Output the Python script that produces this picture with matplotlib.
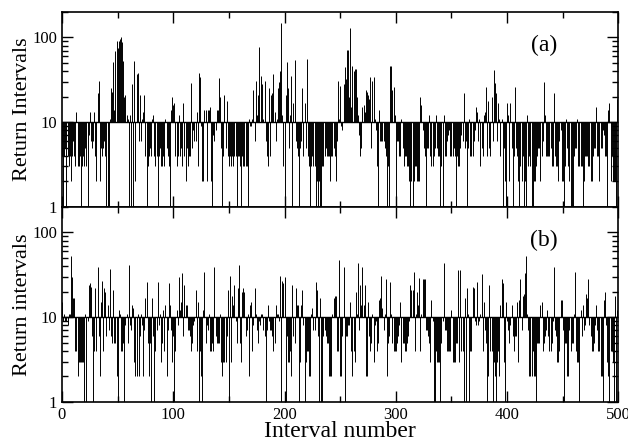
import numpy as np
import matplotlib
matplotlib.use("Agg")
import matplotlib.pyplot as plt
from matplotlib.ticker import LogLocator, MultipleLocator, NullFormatter

plt.rcParams["font.family"] = ["Liberation Serif", "DejaVu Serif"]

# return intervals, one value per interval (0..499)
ret_a = [
    4, 1, 4, 5, 1, 4, 3, 4, 2, 4,          # 0
    6, 4, 3, 13, 3, 3, 4, 1, 3, 4,
    3, 5, 3, 1, 7, 13, 6, 5, 6, 13,
    4, 2, 22, 31, 2, 5, 4, 5, 6, 4,
    1, 1, 1, 11, 25, 23, 51, 14, 70, 90,
    75, 90, 95, 100, 88, 53, 20, 21, 12, 11,  # 50
    1, 12, 1, 28, 1, 53, 2, 37, 38, 6,
    21, 6, 11, 13, 21, 4, 1, 3, 4, 5,
    4, 11, 12, 4, 3, 4, 1, 4, 5, 3,
    3, 4, 3, 11, 5, 4, 3, 1, 14, 20,
    16, 17, 4, 3, 4, 12, 4, 5, 3, 17,      # 100
    4, 2, 5, 3, 4, 4, 29, 5, 8, 6,
    6, 13, 3, 38, 34, 9, 2, 2, 14, 14,
    2, 14, 14, 15, 2, 1, 7, 6, 8, 14,
    14, 33, 20, 5, 1, 4, 21, 5, 18, 4,
    3, 4, 3, 4, 3, 4, 4, 1, 4, 4,          # 150
    3, 1, 4, 3, 3, 3, 3, 1, 11, 9,
    9, 11, 24, 6, 31, 12, 21, 78, 10, 35,
    28, 11, 31, 6, 4, 3, 25, 4, 21, 22,
    37, 13, 6, 11, 25, 30, 40, 150, 12, 3,
    1, 21, 51, 25, 5, 12, 35, 1, 17, 54,   # 200
    6, 5, 4, 1, 5, 6, 25, 4, 17, 5,
    56, 4, 3, 1, 3, 4, 3, 3, 1, 2,
    1, 2, 1, 1, 3, 3, 4, 5, 4, 4,
    4, 2, 4, 4, 5, 4, 2, 6, 31, 11,
    27, 9, 8, 28, 45, 32, 72, 72, 20, 130,  # 250
    15, 46, 40, 42, 42, 20, 12, 7, 4, 5,
    15, 16, 13, 24, 23, 21, 19, 34, 5, 31,
    34, 11, 8, 3, 1, 14, 6, 6, 6, 6,
    5, 4, 1, 3, 1, 46, 46, 24, 26, 12,
    1, 6, 6, 4, 4, 11, 5, 3, 4, 4,         # 300
    3, 3, 2, 1, 2, 1, 2, 3, 3, 2,
    2, 2, 20, 16, 8, 5, 4, 1, 5, 5,
    12, 4, 3, 3, 4, 5, 12, 5, 4, 4,
    1, 3, 1, 12, 4, 4, 6, 7, 8, 4,
    4, 4, 5, 4, 1, 4, 3, 3, 5, 7,          # 350
    6, 22, 5, 6, 1, 5, 11, 4, 4, 4,
    6, 8, 15, 13, 6, 11, 3, 5, 4, 12,
    13, 26, 4, 18, 5, 4, 20, 6, 41, 29,
    22, 6, 17, 11, 4, 11, 1, 5, 2, 1,
    17, 12, 2, 17, 5, 1, 4, 26, 5, 4,      # 400
    2, 1, 3, 2, 4, 1, 2, 1, 12, 3,
    4, 3, 1, 1, 2, 2, 3, 4, 5, 5,
    2, 4, 6, 30, 12, 4, 4, 4, 4, 5,
    3, 3, 22, 4, 3, 3, 2, 6, 8, 2,
    2, 1, 3, 11, 5, 3, 2, 1, 1, 1,         # 450
    4, 5, 5, 11, 3, 3, 3, 3, 1, 2,
    4, 4, 4, 3, 3, 2, 2, 4, 5, 5,
    15, 4, 4, 2, 5, 5, 8, 7, 4, 4,
    1, 14, 17, 2, 4, 2, 2, 2, 1, 19,
]

ret_b = [
    15, 9, 11, 9, 9, 8, 11, 11, 53, 30,    # 0
    17, 17, 4, 4, 2, 3, 3, 3, 3, 3,
    1, 11, 1, 9, 24, 25, 23, 6, 1, 4,
    22, 4, 39, 6, 2, 15, 27, 4, 22, 20,
    6, 14, 7, 37, 6, 5, 21, 5, 5, 2,
    1, 12, 11, 4, 4, 5, 1, 8, 11, 5,       # 50
    41, 8, 7, 14, 13, 3, 2, 2, 11, 2,
    6, 11, 8, 2, 7, 17, 26, 5, 2, 5,
    1, 17, 6, 1, 4, 7, 26, 8, 11, 3,
    5, 12, 4, 14, 2, 7, 25, 14, 7, 3,
    6, 1, 4, 12, 8, 30, 12, 15, 33, 6,     # 100
    24, 14, 14, 7, 7, 6, 4, 5, 8, 9,
    21, 4, 15, 1, 4, 2, 1, 12, 34, 5,
    8, 7, 11, 4, 4, 5, 4, 39, 6, 5,
    5, 5, 11, 3, 2, 3, 3, 3, 6, 21,
    1, 31, 3, 18, 14, 24, 9, 5, 22, 41,    # 150
    5, 3, 20, 22, 20, 6, 7, 11, 2, 14,
    15, 4, 8, 22, 11, 7, 5, 9, 8, 11,
    11, 7, 6, 1, 7, 14, 9, 7, 7, 6,
    4, 5, 14, 11, 11, 9, 31, 1, 27, 25,
    30, 1, 6, 3, 3, 4, 2, 24, 6, 5,        # 200
    22, 14, 14, 1, 3, 14, 21, 8, 1, 3,
    4, 4, 2, 2, 11, 13, 7, 7, 26, 21,
    6, 1, 17, 1, 1, 6, 7, 6, 5, 5,
    2, 2, 2, 11, 17, 18, 18, 4, 4, 47,
    2, 2, 6, 39, 1, 6, 6, 8, 8, 15,        # 250
    4, 2, 4, 3, 20, 11, 44, 7, 24, 14,
    39, 14, 24, 2, 2, 15, 6, 4, 5, 11,
    3, 8, 9, 4, 5, 16, 17, 31, 13, 7,
    11, 28, 2, 5, 6, 26, 11, 5, 4, 4,
    4, 5, 6, 8, 15, 3, 5, 5, 4, 4,         # 300
    5, 6, 9, 24, 21, 21, 34, 4, 11, 20,
    14, 29, 4, 11, 28, 28, 28, 7, 7, 6,
    5, 3, 16, 9, 1, 1, 4, 3, 3, 3,
    1, 5, 9, 44, 7, 7, 4, 4, 4, 4,
    12, 3, 3, 3, 5, 5, 36, 3, 36, 4,       # 350
    4, 1, 17, 1, 22, 11, 1, 4, 4, 23,
    22, 9, 8, 26, 8, 9, 11, 32, 4, 15,
    7, 5, 1, 2, 24, 4, 4, 1, 3, 2,
    1, 3, 4, 2, 14, 28, 25, 3, 1, 15,
    9, 7, 5, 8, 14, 6, 4, 6, 6, 15,        # 400
    3, 16, 28, 7, 18, 19, 33, 52, 11, 7,
    2, 2, 2, 4, 2, 2, 1, 5, 5, 5,
    14, 15, 4, 5, 6, 7, 12, 6, 4, 4,
    5, 9, 39, 7, 6, 3, 3, 4, 16, 16,
    7, 1, 5, 5, 2, 2, 7, 4, 5, 5,          # 450
    11, 34, 4, 3, 3, 1, 12, 6, 14, 7,
    8, 19, 17, 28, 8, 6, 4, 4, 5, 8,
    14, 7, 4, 4, 2, 2, 1, 16, 20, 8,
    3, 2, 1, 4, 4, 3, 1, 18, 1, 12,
]

mean_level = 10
panel_tags = ["(a)", "(b)"]
ylabels = ["Return Intervals", "Return intervals"]

fig = plt.figure(figsize=(6.28, 4.42), dpi=100)
ax_a = fig.add_axes([0.0987, 0.532, 0.886, 0.441])
ax_b = fig.add_axes([0.0987, 0.0905, 0.886, 0.4415])

for ax, vals, tag, lab in zip((ax_a, ax_b), (ret_a, ret_b), panel_tags, ylabels):
    x = np.arange(len(vals))
    ax.vlines(x, mean_level, vals, color="black", lw=0.7)
    ax.axhline(mean_level, color="black", lw=1.0)
    ax.set_yscale("log")
    ax.set_ylim(1, 200)
    ax.set_xlim(0, 500)
    ax.set_yticks([1, 10, 100])
    ax.set_yticklabels(["1", "10", "100"])
    ax.yaxis.set_minor_locator(LogLocator(base=10, subs=range(2, 10)))
    ax.yaxis.set_minor_formatter(NullFormatter())
    ax.xaxis.set_major_locator(MultipleLocator(100))
    ax.xaxis.set_minor_locator(MultipleLocator(50))
    ax.tick_params(which="both", direction="in", top=True, right=True, labelsize=12, width=1)
    ax.tick_params(which="major", length=8)
    ax.tick_params(which="minor", length=4)
    for s in ax.spines.values():
        s.set_linewidth(1.2)
    ax.set_ylabel(lab, fontsize=16, labelpad=0)
    ax.text(0.866, 0.83, tag, transform=ax.transAxes, fontsize=17, ha="center", va="center")

ax_a.tick_params(labelbottom=False)
ax_b.set_xlabel("Interval number", fontsize=17, labelpad=-1)

fig.savefig("out.png", dpi=100)
